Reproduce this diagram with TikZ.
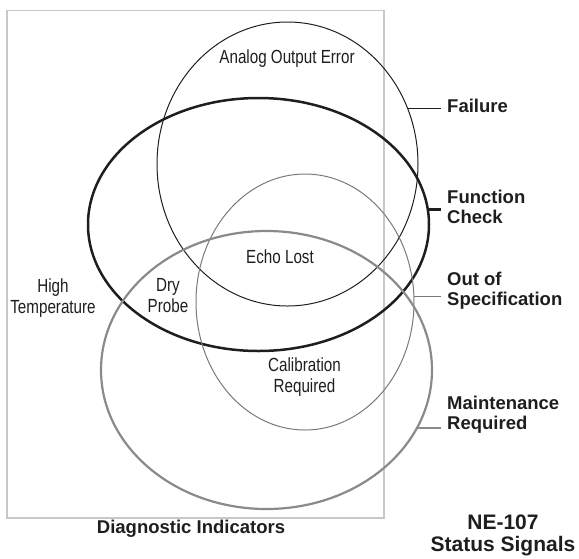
\documentclass[tikz,border=0pt]{standalone}
\usepackage{fontspec}
\setmainfont{Liberation Sans}
\newfontfamily\condfont[FakeStretch=0.8]{Liberation Sans}
\usetikzlibrary{shapes.geometric}
\definecolor{boxgray}{HTML}{C8C8C8}
\definecolor{specgray}{HTML}{7A7A7A}
\definecolor{maintgray}{HTML}{8A8A8A}
\definecolor{ink}{HTML}{1E1E1E}
\tikzset{
  venn/.style={ellipse, inner sep=0pt, outer sep=0pt},
  intext/.style={font=\condfont\fontsize{19}{21}\selectfont, align=center, inner sep=0pt, text=ink},
  siglabel/.style={font=\fontsize{18.5}{20}\selectfont\bfseries, align=left, anchor=west, inner sep=6pt, text=ink},
  ttl/.style={font=\fontsize{18.5}{22}\selectfont\bfseries, align=center, inner sep=0pt, text=ink},
}
\begin{document}
\begin{tikzpicture}[x=1pt, y=-1pt]
\useasboundingbox (0,0) rectangle (579,558);
% diagnostic indicators box
\node[draw=boxgray, line width=1.5pt, minimum width=377pt, minimum height=507.5pt, inner sep=0pt, anchor=north west] (box) at (6,9.5) {};
% ellipses
\node[venn, draw=ink, line width=1pt, minimum width=261pt, minimum height=284pt] (fail) at (287.5,164) {};
\node[venn, draw=ink, line width=2.5pt, minimum width=341pt, minimum height=253pt] (func) at (258.5,224.5) {};
\node[venn, draw=specgray, line width=1pt, minimum width=218pt, minimum height=256pt] (spec) at (305,302) {};
\node[venn, draw=maintgray, line width=2.2pt, minimum width=331pt, minimum height=278pt] (maint) at (266.5,370) {};
% inner texts
\node[intext] (aoe) at (287,59) {Analog Output Error};
\node[intext] (echo) at (280,257) {Echo Lost};
\node[intext] (hitemp) at (53,298) {High\\Temperature};
\node[intext] (dry) at (168,296) {Dry\\Probe};
\node[intext] (calib) at (304.5,377.5) {Calibration\\Required};
% signal labels
\node[siglabel] (lfail) at (441,106) {Failure};
\node[siglabel] (lfunc) at (441,207) {Function\\Check};
\node[siglabel] (lspec) at (441,291) {Out of\\Specification};
\node[siglabel] (lmaint) at (441,415) {Maintenance\\Required};
% connectors
\draw[ink, line width=1pt] (fail.25.5) -- (fail.25.5 -| lfail.west);
\draw[ink, line width=2.5pt] (func.5.6) -- (func.5.6 -| lfunc.west);
\draw[specgray, line width=1pt] (spec.3.2) -- (spec.3.2 -| lspec.west);
\draw[maintgray, line width=2.2pt] (maint.-21) -- (maint.-21 -| lmaint.west);
% titles
\node[ttl] (diag) at (191,529) {Diagnostic Indicators};
\node[ttl, font=\fontsize{21}{22}\selectfont\bfseries] (ne) at (503,535) {NE-107\\Status Signals};
\end{tikzpicture}
\end{document}
